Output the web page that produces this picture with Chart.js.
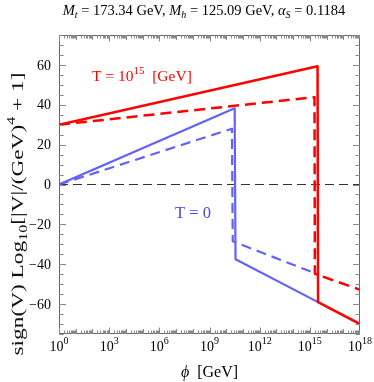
<!DOCTYPE html>
<html>
<head>
<meta charset="utf-8">
<script src="https://cdn.jsdelivr.net/npm/chart.js@4/dist/chart.umd.min.js"></script>
<style>
html,body{margin:0;padding:0;background:#fff;overflow:hidden;}
canvas{display:block;}
</style>
</head>
<body>
<canvas id="c" width="374" height="382" style="width:374px;height:382px"></canvas>
<script>
// ---- data ----
const phiRedSolid  = [1, 2.9e15, 3.1e15, 1e18];
const valRedSolid  = [30, 59.3, -59, -70];
const phiRedDash   = [1, 1.9e15, 2.0e15, 1e18];
const valRedDash   = [30, 43.8, -44.8, -52.8];
const phiBlueSolid = [1, 3.2e10, 3.6e10, 3.1e15];
const valBlueSolid = [0, 38.2, -37.5, -59];
const phiBlueDash  = [1, 2.2e10, 2.45e10, 2.0e15];
const valBlueDash  = [0, 28, -28.5, -44.5];
const phiZero      = [1, 1e18];
const valZero      = [0, 0];

const xTickExponents = [0, 3, 6, 9, 12, 15, 18];
const yTickValues    = [60, 40, 20, 0, -20, -40, -60];
const yTickLabels    = ['60', '40', '20', '0', '\u221220', '\u221240', '\u221260'];

const RED = '#ff0000';
const BLUE = 'rgb(98,98,250)';
const SERIF = '"Liberation Serif", "Times New Roman", serif';

function pts(xs, ys) { return xs.map((x, i) => ({x: x, y: ys[i]})); }

function richWidth(ctx, segs) {
  let w = 0;
  for (const s of segs) {
    ctx.font = (s.italic ? 'italic ' : '') + s.size + 'px ' + SERIF;
    w += ctx.measureText(s.t).width;
  }
  return w;
}
function drawRich(ctx, segs, x, y, align, color) {
  const w = richWidth(ctx, segs);
  let cx = align === 'center' ? x - w / 2 : (align === 'right' ? x - w : x);
  ctx.fillStyle = color;
  ctx.textBaseline = 'alphabetic';
  ctx.textAlign = 'left';
  for (const s of segs) {
    ctx.font = (s.italic ? 'italic ' : '') + s.size + 'px ' + SERIF;
    ctx.fillText(s.t, cx, y + (s.dy || 0));
    cx += ctx.measureText(s.t).width;
  }
}

const decor = {
  id: 'decor',
  afterDatasetsDraw(chart) {
    const ctx = chart.ctx;
    const xs = chart.scales.x, ys = chart.scales.y;
    const a = chart.chartArea;
    ctx.save();
    // frame
    ctx.strokeStyle = '#666';
    ctx.lineWidth = 1;
    ctx.strokeRect(a.left + 0.5, a.top + 0.5, a.right - a.left - 1, a.bottom - a.top - 1);
    // x ticks (top & bottom)
    ctx.strokeStyle = '#888';
    ctx.beginPath();
    for (let k = 0; k < 18; k++) {
      for (let m = 1; m <= 9; m++) {
        const v = m * Math.pow(10, k);
        const px = Math.round(xs.getPixelForValue(v)) + 0.5;
        let len = 3.5;
        if (m === 1) len = (k % 3 === 0) ? 6.5 : 5;
        ctx.moveTo(px, a.bottom); ctx.lineTo(px, a.bottom - len);
        ctx.moveTo(px, a.top); ctx.lineTo(px, a.top + len);
      }
    }
    // y ticks (left & right)
    for (let v = -75; v <= 75; v += 5) {
      const py = Math.round(ys.getPixelForValue(v)) + 0.5;
      const len = (v % 20 === 0) ? 7 : 4.5;
      ctx.moveTo(a.left, py); ctx.lineTo(a.left + len, py);
      ctx.moveTo(a.right, py); ctx.lineTo(a.right - len, py);
    }
    ctx.stroke();

    // y tick labels
    ctx.fillStyle = '#000';
    ctx.font = '14px ' + SERIF;
    ctx.textAlign = 'right';
    ctx.textBaseline = 'middle';
    yTickValues.forEach((v, i) => {
      ctx.fillText(yTickLabels[i], a.left - 8, ys.getPixelForValue(v) + 1);
    });
    // x tick labels
    xTickExponents.forEach(e => {
      const px = xs.getPixelForValue(Math.pow(10, e));
      drawRich(ctx, [{t: '10', size: 14}, {t: String(e), size: 10, dy: -7}], px, a.bottom + 17, 'center', '#000');
    });
    // x title
    drawRich(ctx, [{t: '\u03D5', size: 16, italic: true}, {t: '  [GeV]', size: 16}], (a.left + a.right) / 2, 377, 'center', '#000');
    // y title (rotated, lightly stretched along its length to the reference extent)
    const ySegs = [
      {t: 'sign(V) Log', size: 17.5},
      {t: '10', size: 12, dy: 4},
      {t: '[|V|/(GeV)', size: 17.5},
      {t: '4', size: 12, dy: -8},
      {t: ' + 1]', size: 17.5}
    ];
    const yw = richWidth(ctx, ySegs);
    ctx.save();
    ctx.translate(22.5, 214);
    ctx.rotate(-Math.PI / 2);
    ctx.scale(283 / yw, 1);
    drawRich(ctx, ySegs, 0, 0, 'center', '#111');
    ctx.restore();
    // title
    drawRich(ctx, [
      {t: 'M', size: 14.5, italic: true}, {t: 't', size: 10, italic: true, dy: 3},
      {t: ' = 173.34 GeV, ', size: 14.5},
      {t: 'M', size: 14.5, italic: true}, {t: 'h', size: 10, italic: true, dy: 3},
      {t: ' = 125.09 GeV, ', size: 14.5},
      {t: '\u03B1', size: 14.5, italic: true}, {t: 'S', size: 10, italic: true, dy: 3},
      {t: ' = 0.1184', size: 14.5}
    ], 204, 15, 'center', '#000');
    // in-plot labels
    drawRich(ctx, [{t: 'T = 10', size: 15.5}, {t: '15', size: 11, dy: -7}, {t: '  [GeV]', size: 15.5}], 92, 81, 'left', RED);
    drawRich(ctx, [{t: 'T = 0', size: 16.5}], 175, 218, 'left', 'rgb(70,70,240)');
    ctx.restore();
  }
};

new Chart(document.getElementById('c'), {
  type: 'scatter',
  data: {
    datasets: [
      {data: pts(phiZero, valZero), borderColor: '#333', borderWidth: 1, borderDash: [9, 5], order: 5},
      {data: pts(phiBlueDash, valBlueDash), borderColor: BLUE, borderWidth: 2.2, borderDash: [10, 6], order: 4},
      {data: pts(phiBlueSolid, valBlueSolid), borderColor: BLUE, borderWidth: 2.2, order: 3},
      {data: pts(phiRedDash, valRedDash), borderColor: RED, borderWidth: 2.5, borderDash: [11, 6], order: 2},
      {data: pts(phiRedSolid, valRedSolid), borderColor: RED, borderWidth: 2.5, order: 1}
    ].map(d => Object.assign({showLine: true, fill: false, tension: 0, pointRadius: 0, borderJoinStyle: 'round'}, d))
  },
  options: {
    responsive: false,
    animation: false,
    devicePixelRatio: 1,
    layout: {padding: {left: 59, right: 14, top: 35, bottom: 48}},
    plugins: {legend: {display: false}, tooltip: {enabled: false}},
    scales: {
      x: {type: 'logarithmic', min: 1, max: 1e18, display: false},
      y: {type: 'linear', min: -75, max: 75, display: false}
    }
  },
  plugins: [decor]
});
</script>
</body>
</html>
